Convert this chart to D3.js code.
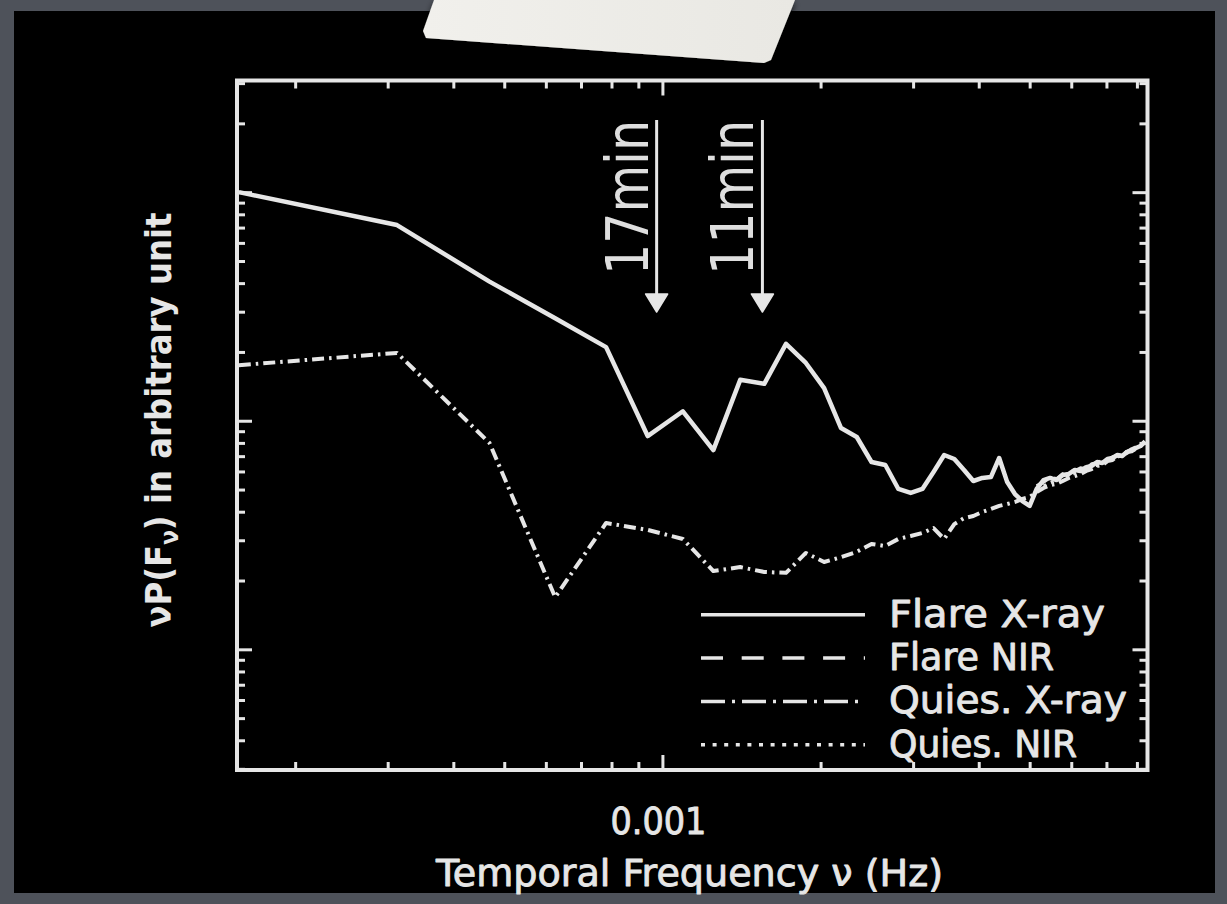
<!DOCTYPE html>
<html>
<head>
<meta charset="utf-8">
<script src="https://cdn.jsdelivr.net/npm/d3@7"></script>
<style>
  html, body { margin: 0; padding: 0; background: #4e525a; overflow: hidden; }
  svg { display: block; }
</style>
</head>
<body>
<svg id="chart" width="1227" height="904"></svg>
<script>
// Fourier bins (Hz) of the X-ray power spectra
const freqHz = [
  0.00015625, 0.0003125, 0.00046875, 0.000625, 0.00078125, 0.0009375, 0.00109375, 0.00125,
  0.00140625, 0.0015625, 0.00171875, 0.001875, 0.00203125, 0.0021875, 0.00234375, 0.0025,
  0.00265625, 0.0028125, 0.00296875, 0.003125, 0.00328125, 0.0034375, 0.00359375, 0.00375,
  0.00390625, 0.0040625, 0.00421875, 0.004375, 0.00453125, 0.0046875, 0.00484375, 0.005,
  0.00515625, 0.0053125, 0.00546875, 0.005625, 0.00578125, 0.0059375, 0.00609375, 0.00625,
  0.00640625, 0.0065625, 0.00671875, 0.006875, 0.00703125, 0.0071875, 0.00734375, 0.0075,
  0.00765625, 0.0078125, 0.00796875, 0.008125, 0.00828125
];

// nu P(F_nu), arbitrary units
const flareXray = [
  100, 71.8, 40.6, 28.1, 21.0, 8.57, 11.0, 7.44,
  15.1, 14.5, 21.7, 17.9, 13.9, 9.29, 8.49, 6.60,
  6.40, 5.03, 4.83, 5.03, 5.97, 7.08, 6.80, 6.09,
  5.45, 5.62, 5.67, 6.87, 5.39, 4.78, 4.45, 4.24,
  5.03, 5.50, 5.62, 5.50, 5.79, 5.85, 6.09, 6.03,
  6.27, 6.34, 6.60, 6.53, 6.80, 6.87, 7.08, 7.01,
  7.30, 7.37, 7.60, 7.75, 8.07
];

const quiesXray = [
  17.5, 19.8, 7.99, 1.69, 3.57, 3.33, 3.04, 2.20,
  2.29, 2.18, 2.16, 2.64, 2.41, 2.53, 2.67, 2.89,
  2.83, 3.04, 3.13, 3.23, 3.39, 3.04, 3.53, 3.75,
  3.83, 3.99, 4.11, 4.24, 4.32, 4.41, 4.55, 4.64,
  4.88, 5.08, 5.23, 5.29, 5.45, 5.62, 5.73, 5.85,
  6.03, 6.15, 6.34, 6.40, 6.66, 6.73, 7.01, 7.08,
  7.30, 7.44, 7.60, 7.75, 8.15
];

// NIR spectra cover only the high-frequency bins
const nirFreqHz = [
  0.00515625, 0.0053125, 0.00546875, 0.005625, 0.00578125, 0.0059375, 0.00609375, 0.00625,
  0.00640625, 0.0065625, 0.00671875, 0.006875, 0.00703125, 0.0071875, 0.00734375, 0.0075,
  0.00765625, 0.0078125, 0.00796875, 0.008125, 0.00828125
];
const flareNIR = [
  5.18, 5.39, 5.67, 5.56, 5.85, 5.97, 6.03, 6.21,
  6.15, 6.47, 6.53, 6.73, 6.66, 6.94, 7.01, 7.22,
  7.30, 7.52, 7.67, 7.83, 8.15
];
const quiesNIR = [
  4.98, 5.18, 5.34, 5.50, 5.62, 5.79, 5.91, 5.97,
  6.15, 6.27, 6.40, 6.53, 6.73, 6.80, 6.94, 7.08,
  7.22, 7.37, 7.52, 7.75, 7.99
];

const seriesNames = ["Flare X-ray", "Flare NIR", "Quies. X-ray", "Quies. NIR"];

// Periods marked with arrows
const markFreqHz = [0.000975, 0.00155];
const markLabels = ["17min", "11min"];

// Axis ticks
const xMajorTicks = [0.001];
const xMajorLabels = ["0.001"];
const xMinorTicks = [2e-4, 3e-4, 4e-4, 5e-4, 6e-4, 7e-4, 8e-4, 9e-4,
                     2e-3, 3e-3, 4e-3, 5e-3, 6e-3, 7e-3, 8e-3];
const yMajorTicks = [1, 10, 100];
const yMinorTicks = [0.3, 0.4, 0.5, 0.6, 0.7, 0.8, 0.9,
                     2, 3, 4, 5, 6, 7, 8, 9,
                     20, 30, 40, 50, 60, 70, 80, 90,
                     200, 300];

const xTitle = "Temporal Frequency \u03bd (Hz)";

// ---------------------------------------------------------------
const ink = "#e6e6e6";
const font = "'DejaVu Sans', 'Noto Sans', sans-serif";
const svg = d3.select("#chart");

const plot = { left: 237, right: 1147.5, top: 80.5, bottom: 770 };

const x = d3.scaleLog().domain([0.000155, 0.00838]).range([plot.left, plot.right]);
const y = d3.scaleLog().domain([0.2965, 308]).range([plot.bottom, plot.top]);

// backdrop: grey slide, black card, strip of tape
const defs = svg.append("defs");
const shadow = defs.append("filter").attr("id", "tapeShadow")
  .attr("x", "-10%").attr("y", "-10%").attr("width", "120%").attr("height", "140%");
shadow.append("feDropShadow").attr("dx", 0).attr("dy", 3).attr("stdDeviation", 3)
  .attr("flood-color", "#000").attr("flood-opacity", 0.7);
const tapeGrad = defs.append("linearGradient").attr("id", "tapeGrad")
  .attr("x1", 0).attr("y1", 0).attr("x2", 1).attr("y2", 0);
tapeGrad.append("stop").attr("offset", 0).attr("stop-color", "#f1f0ec");
tapeGrad.append("stop").attr("offset", 1).attr("stop-color", "#e9e8e3");

svg.append("rect").attr("width", 1227).attr("height", 904).attr("fill", "#4e525a");
svg.append("rect").attr("x", 14).attr("y", 11).attr("width", 1201).attr("height", 882).attr("fill", "#000");
svg.append("polygon")
  .attr("points", "434,0 423,31 426,38 764,63 771,60 795,0")
  .attr("fill", "url(#tapeGrad)")
  .attr("filter", "url(#tapeShadow)");

const g = svg.append("g");

// ticks on all four sides, pointing inward
function ticks(axisGen, tx, ty, size) {
  const a = g.append("g").attr("transform", `translate(${tx},${ty})`)
    .call(axisGen.tickSizeInner(-size).tickSizeOuter(0));
  a.select(".domain").remove();
  a.selectAll(".tick line").attr("stroke", ink).attr("stroke-width", 3);
  a.selectAll(".tick text").remove();
  return a;
}
const noLab = () => "";
ticks(d3.axisBottom(x).tickValues(xMinorTicks).tickFormat(noLab), 0, plot.bottom, 8);
ticks(d3.axisBottom(x).tickValues(xMajorTicks).tickFormat(noLab), 0, plot.bottom, 15);
ticks(d3.axisTop(x).tickValues(xMinorTicks).tickFormat(noLab), 0, plot.top, 8);
ticks(d3.axisTop(x).tickValues(xMajorTicks).tickFormat(noLab), 0, plot.top, 15);
ticks(d3.axisLeft(y).tickValues(yMinorTicks).tickFormat(noLab), plot.left, 0, 8);
ticks(d3.axisLeft(y).tickValues(yMajorTicks).tickFormat(noLab), plot.left, 0, 15);
ticks(d3.axisRight(y).tickValues(yMinorTicks).tickFormat(noLab), plot.right, 0, 8);
ticks(d3.axisRight(y).tickValues(yMajorTicks).tickFormat(noLab), plot.right, 0, 15);

// frame
g.append("rect")
  .attr("x", plot.left).attr("y", plot.top)
  .attr("width", plot.right - plot.left).attr("height", plot.bottom - plot.top)
  .attr("fill", "none").attr("stroke", ink).attr("stroke-width", 4);

// plotted-text style: slightly heavier strokes
function heavy(sel, w) {
  return sel.attr("fill", ink).attr("stroke", ink)
    .attr("stroke-width", w).attr("stroke-linejoin", "round");
}

// x tick label
heavy(g.selectAll(".xlab").data(xMajorTicks).join("text")
  .attr("class", "xlab")
  .attr("x", d => x(d) - 4).attr("y", 834)
  .attr("text-anchor", "middle")
  .attr("font-family", font).attr("font-size", 38)
  .attr("textLength", 96).attr("lengthAdjust", "spacingAndGlyphs")
  .text((d, i) => xMajorLabels[i]), 0.9);

// axis titles
heavy(g.append("text")
  .attr("x", 689.5).attr("y", 886)
  .attr("text-anchor", "middle")
  .attr("font-family", font).attr("font-size", 38)
  .attr("textLength", 507).attr("lengthAdjust", "spacingAndGlyphs")
  .text(xTitle), 0.9);

const yTitle = g.append("text")
  .attr("transform", "translate(171,420) rotate(-90)")
  .attr("text-anchor", "middle")
  .attr("font-family", font).attr("font-size", 36).attr("fill", ink)
  .attr("font-weight", "bold")
  .attr("textLength", 415).attr("lengthAdjust", "spacingAndGlyphs");
yTitle.append("tspan").text("\u03bdP(F");
yTitle.append("tspan").attr("font-size", 24).attr("dy", 7).text("\u03bd");
yTitle.append("tspan").attr("dy", -7).text(") in arbitrary unit");

// spectra
const styles = {
  "Flare X-ray":  { dash: null,          width: 4.5 },
  "Flare NIR":    { dash: "12,8",        width: 3.5 },
  "Quies. X-ray": { dash: "12,5,2.5,5",  width: 4 },
  "Quies. NIR":   { dash: "3,5",         width: 3.5 }
};
const legendDash = {
  "Flare X-ray":  null,
  "Flare NIR":    "22,18.7",
  "Quies. X-ray": "24,7,3,7",
  "Quies. NIR":   "4,7.6"
};

const series = [
  { name: "Quies. X-ray", f: freqHz,    v: quiesXray },
  { name: "Quies. NIR",   f: nirFreqHz, v: quiesNIR },
  { name: "Flare NIR",    f: nirFreqHz, v: flareNIR },
  { name: "Flare X-ray",  f: freqHz,    v: flareXray }
];

const line = d3.line().x(d => x(d[0])).y(d => y(d[1]));
g.selectAll(".spec").data(series).join("path")
  .attr("class", "spec")
  .attr("d", s => line(s.f.map((f, i) => [f, s.v[i]])))
  .attr("fill", "none").attr("stroke", ink)
  .attr("stroke-width", s => styles[s.name].width)
  .attr("stroke-dasharray", s => styles[s.name].dash)
  .attr("stroke-linejoin", "round");

// period markers
const marks = g.selectAll(".mark").data(markFreqHz).join("g").attr("class", "mark");
marks.append("line")
  .attr("x1", d => x(d)).attr("x2", d => x(d))
  .attr("y1", 120).attr("y2", 296)
  .attr("stroke", ink).attr("stroke-width", 3);
marks.append("polygon")
  .attr("points", d => `${x(d) - 11},294 ${x(d) + 11},294 ${x(d)},312`)
  .attr("fill", ink).attr("stroke", ink).attr("stroke-width", 1.5).attr("stroke-linejoin", "round");
marks.append("text")
  .attr("transform", d => `translate(${x(d) - 9},275) rotate(-90)`)
  .attr("font-family", font).attr("font-size", 58).attr("fill", "#dedede")
  .attr("textLength", 155).attr("lengthAdjust", "spacingAndGlyphs")
  .text((d, i) => markLabels[i]);

// legend
const legY = d3.scalePoint().domain(seriesNames).range([614.7, 744.8]);
const legWidths = [216, 165, 238, 188];
const leg = g.selectAll(".leg").data(seriesNames).join("g").attr("class", "leg");
leg.append("line")
  .attr("x1", 701).attr("x2", 865)
  .attr("y1", d => legY(d)).attr("y2", d => legY(d))
  .attr("stroke", ink).attr("stroke-width", 3.5)
  .attr("stroke-dasharray", d => legendDash[d]);
heavy(leg.append("text")
  .attr("x", 889).attr("y", d => legY(d) + 12)
  .attr("font-family", font).attr("font-size", 37)
  .attr("textLength", (d, i) => legWidths[i]).attr("lengthAdjust", "spacingAndGlyphs")
  .text(d => d), 0.9);
</script>
</body>
</html>
